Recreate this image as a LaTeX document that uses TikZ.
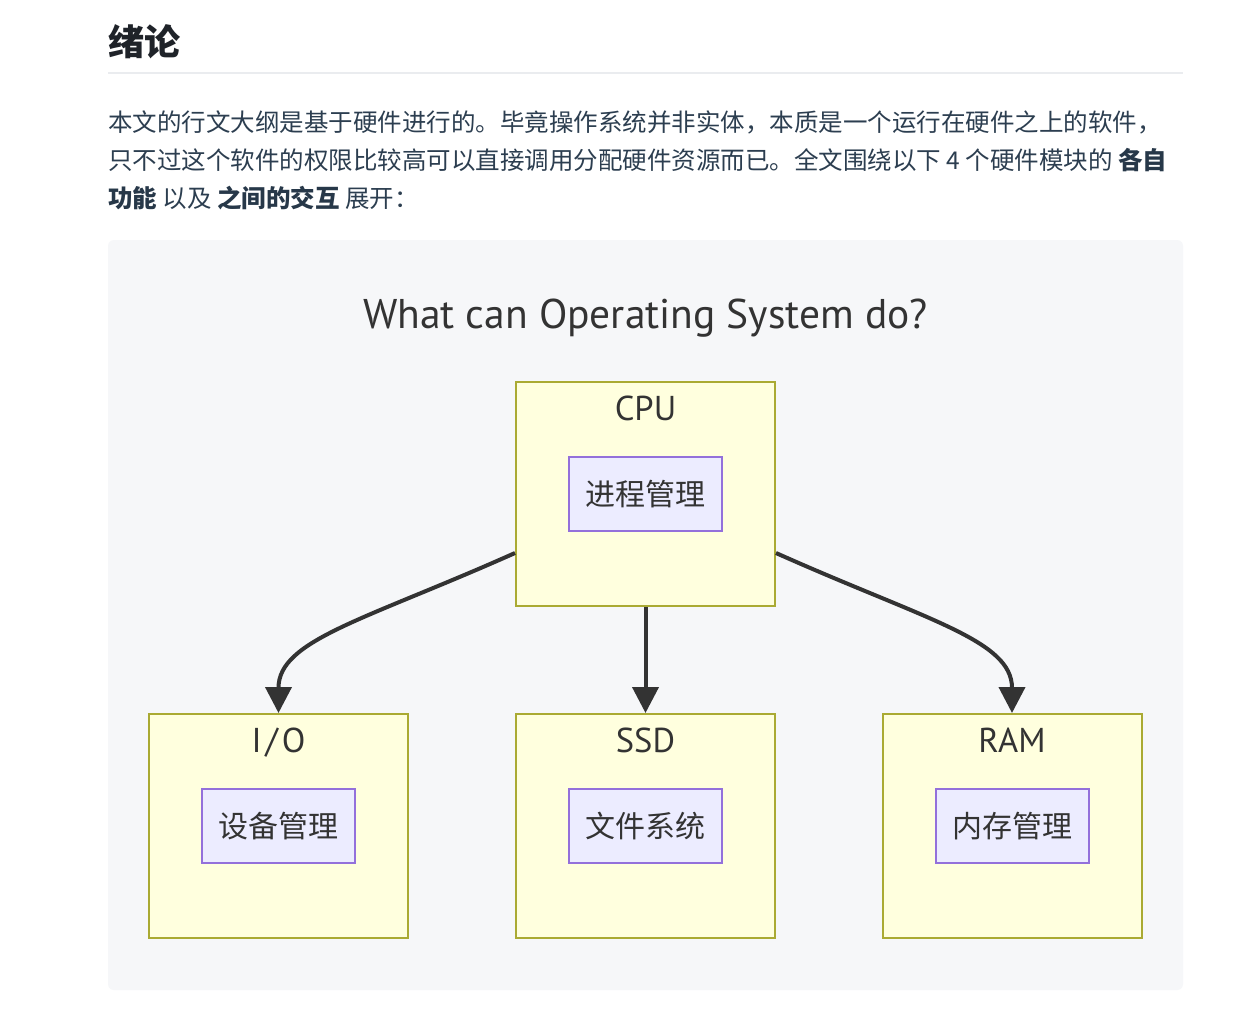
\documentclass[tikz,border=0pt]{standalone}
\usepackage{fontspec}
\setmainfont{PT Sans}
\newfontfamily\cjk{Noto Sans CJK SC}
\usetikzlibrary{arrows.meta,calc,positioning}
\definecolor{headink}{HTML}{1F2329}
\definecolor{bodyink}{HTML}{2C3E50}
\definecolor{boldink}{HTML}{273849}
\definecolor{rulegray}{HTML}{EAECEF}
\definecolor{panelgray}{HTML}{F6F7F9}
\definecolor{hwfill}{HTML}{FFFFDE}
\definecolor{hwline}{HTML}{AAAA33}
\definecolor{taskfill}{HTML}{ECECFF}
\definecolor{taskline}{HTML}{9370DB}
\definecolor{ink}{HTML}{333333}
\tikzset{>={Triangle[length=26pt,width=26pt]},
  para/.style={anchor=west,inner sep=0pt,text=bodyink,font=\cjk\fontsize{24.5}{28}\selectfont},
  hwbox/.style={draw=hwline,fill=hwfill,line width=2pt,minimum width=259pt,minimum height=224pt,inner sep=0pt},
  hwlabel/.style={anchor=base,text=ink,inner sep=0pt,font=\fontsize{34.5}{38}\selectfont},
  taskbox/.style={draw=taskline,fill=taskfill,line width=2pt,minimum width=153pt,minimum height=74pt,inner sep=0pt,text=ink,font=\cjk\fontsize{30}{34}\selectfont},
  flow/.style={->,draw=ink,line width=4pt}}
\begin{document}
\begin{tikzpicture}[x=1pt,y=-1pt]
\useasboundingbox (0,0) rectangle (1250,1028);
\fill[white] (0,0) rectangle (1250,1028);
% heading and text above the chart
\node[anchor=west,inner sep=0pt,text=headink,font=\cjk\bfseries\fontsize{36}{40}\selectfont] (head) at (108,42) {绪论};
\draw[rulegray,line width=1.5pt] (108,73) -- (1183,73);
\node[para] (line1) at (108,122) {本文的行文大纲是基于硬件进行的。毕竟操作系统并非实体，本质是一个运行在硬件之上的软件，};
\node[para] (line2) at (108,160) {只不过这个软件的权限比较高可以直接调用分配硬件资源而已。全文围绕以下 4 个硬件模块的 {\bfseries\color{boldink}各自}};
\node[para] (line3) at (108,198) {{\bfseries\color{boldink}功能} 以及 {\bfseries\color{boldink}之间的交互} 展开：};
% chart
\fill[panelgray,rounded corners=6pt] (108,240) rectangle (1183,990);
\node[text=ink,inner sep=0pt,font=\fontsize{41.5}{45}\selectfont] (title) at (645.5,318) {What can Operating System do?};
\node[hwbox] (cpu) at (645.5,494) {};
\node[hwlabel] (cpuName) at ([yshift=-39pt]cpu.north) {CPU};
\node[taskbox] (cpuTask) at (cpu.center) {进程管理};
\node[hwbox] (io) at (278.5,826) {};
\node[hwlabel] (ioName) at ([yshift=-39pt]io.north) {I\kern4pt/\kern4pt O};
\node[taskbox] (ioTask) at (io.center) {设备管理};
\node[hwbox] (ssd) at (645.5,826) {};
\node[hwlabel] (ssdName) at ([yshift=-39pt]ssd.north) {SSD};
\node[taskbox] (ssdTask) at (ssd.center) {文件系统};
\node[hwbox] (ram) at (1012,826) {};
\node[hwlabel] (ramName) at ([yshift=-39pt]ram.north) {RAM};
\node[taskbox] (ramTask) at (ram.center) {内存管理};
\draw[flow] ([yshift=-59pt]cpu.west) .. controls (365,620) and (278.5,640) .. (io.north);
\draw[flow] (cpu.south) -- (ssd.north);
\draw[flow] ([yshift=-59pt]cpu.east) .. controls (926,620) and (1012,640) .. (ram.north);
\end{tikzpicture}
\end{document}
